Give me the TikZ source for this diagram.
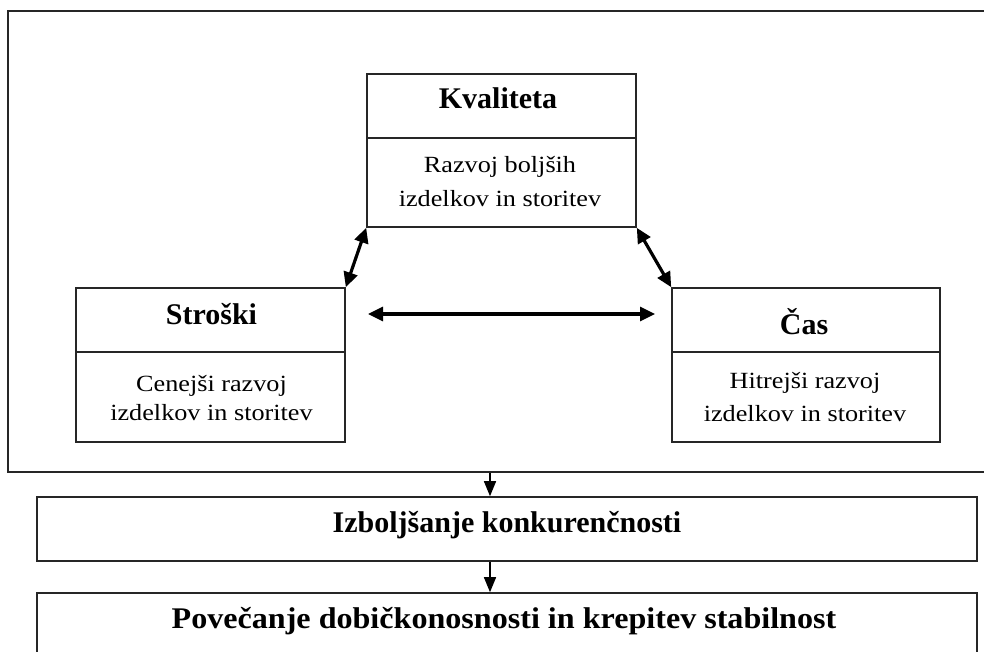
\documentclass[tikz,border=0pt]{standalone}
\usepackage{fontspec}
\setmainfont{Liberation Serif}
\newfontfamily\widefont[FakeStretch=1.13]{Liberation Serif}
\usetikzlibrary{arrows.meta}

\begin{document}
\begin{tikzpicture}[x=1pt,y=-1pt,
  cell/.style={draw=black!85, line width=1.6pt, rectangle, inner sep=0pt},
  titletext/.style={font=\fontsize{30}{36}\selectfont\bfseries, anchor=base, inner sep=0pt},
  bodytext/.style={font=\widefont\fontsize{23.2}{27}\selectfont, anchor=base, inner sep=0pt},
  link/.style={line width=3.2pt, {Triangle[length=15pt,width=14pt]}-{Triangle[length=15pt,width=14pt]}},
  flow/.style={line width=1.5pt, -{Triangle[length=15pt,width=12pt]}}]

\useasboundingbox (0,0) rectangle (984,652);
\clip (0,0) rectangle (984,652);

% surrounding frame of the three dimensions
\node[cell, minimum width=992pt, minimum height=461pt] (frame) at (504,241.5) {};

% Kvaliteta
\node[cell, minimum width=269pt, minimum height=64pt] (qtop) at (501.5,106) {};
\node[cell, minimum width=269pt, minimum height=89pt] (qbody) at (501.5,182.5) {};
\node[titletext] (qtitle) at (498,109) {Kvaliteta};
\node[bodytext] (qline1) at (500,173) {Razvoj boljših};
\node[bodytext] (qline2) at (500,207) {izdelkov in storitev};

% Stroški
\node[cell, minimum width=269pt, minimum height=64pt] (stop) at (210.5,320) {};
\node[cell, minimum width=269pt, minimum height=90pt] (sbody) at (210.5,397) {};
\node[titletext] (stitle) at (211.5,324) {Stroški};
\node[bodytext] (sline1) at (211.5,391) {Cenejši razvoj};
\node[bodytext] (sline2) at (211.5,420.5) {izdelkov in storitev};

% Čas
\node[cell, minimum width=268pt, minimum height=64pt] (ctop) at (806,320) {};
\node[cell, minimum width=268pt, minimum height=90pt] (cbody) at (806,397) {};
\node[titletext] (ctitle) at (804,334.5) {Čas};
\node[bodytext] (cline1) at (805,388) {Hitrejši razvoj};
\node[bodytext] (cline2) at (805,421) {izdelkov in storitev};

% results
\node[cell, minimum width=940pt, minimum height=64pt] (imp) at (507,529) {};
\node[titletext] (imptext) at (507,532) {Izboljšanje konkurenčnosti};
\node[cell, minimum width=940pt, minimum height=107pt] (gain) at (507,646.5) {};
\node[titletext] (gaintext) at (504,628.5) {\scalebox{1.07}[1]{Povečanje dobičkonosnosti in krepitev stabilnost}};

% links between the dimensions
\draw[link] (qbody.south west) -- (stop.north east);
\draw[link] (qbody.south east) -- (ctop.north west);
\coordinate (hl) at (368,314);
\coordinate (hr) at (655,314);
\draw[link] (hl) -- (hr);

% downward flow
\coordinate (ax) at (490,0);
\draw[flow] (ax |- frame.south) -- (ax |- imp.north);
\draw[flow] (ax |- imp.south) -- (ax |- gain.north);
\end{tikzpicture}
\end{document}
